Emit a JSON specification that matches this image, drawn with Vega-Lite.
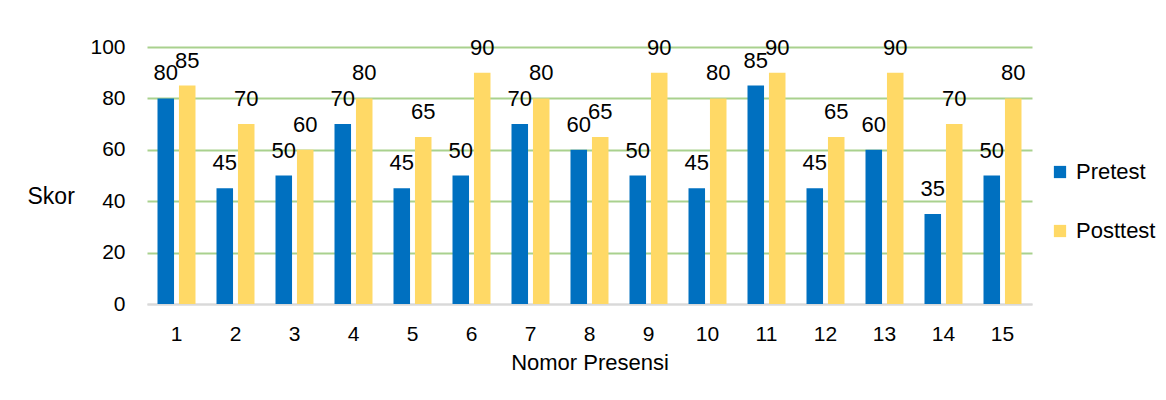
{
  "$schema": "https://vega.github.io/schema/vega-lite/v6.json",
  "autosize": "none",
  "width": 885,
  "height": 257,
  "padding": {"left": 147, "top": 47, "right": 134, "bottom": 96},
  "background": "white",
  "title": {"text": "5.   Tahap Evaluasi", "anchor": "start", "frame": "group", "dx": -127, "offset": 44, "baseline": "alphabetic", "fontSize": 21, "fontWeight": "normal", "font": "Liberation Sans", "color": "#000000"},
  "data": {"values": [
    {"nomor": 1, "tes": "Pretest", "skor": 80}, {"nomor": 1, "tes": "Posttest", "skor": 85},
    {"nomor": 2, "tes": "Pretest", "skor": 45}, {"nomor": 2, "tes": "Posttest", "skor": 70},
    {"nomor": 3, "tes": "Pretest", "skor": 50}, {"nomor": 3, "tes": "Posttest", "skor": 60},
    {"nomor": 4, "tes": "Pretest", "skor": 70}, {"nomor": 4, "tes": "Posttest", "skor": 80},
    {"nomor": 5, "tes": "Pretest", "skor": 45}, {"nomor": 5, "tes": "Posttest", "skor": 65},
    {"nomor": 6, "tes": "Pretest", "skor": 50}, {"nomor": 6, "tes": "Posttest", "skor": 90},
    {"nomor": 7, "tes": "Pretest", "skor": 70}, {"nomor": 7, "tes": "Posttest", "skor": 80},
    {"nomor": 8, "tes": "Pretest", "skor": 60}, {"nomor": 8, "tes": "Posttest", "skor": 65},
    {"nomor": 9, "tes": "Pretest", "skor": 50}, {"nomor": 9, "tes": "Posttest", "skor": 90},
    {"nomor": 10, "tes": "Pretest", "skor": 45}, {"nomor": 10, "tes": "Posttest", "skor": 80},
    {"nomor": 11, "tes": "Pretest", "skor": 85}, {"nomor": 11, "tes": "Posttest", "skor": 90},
    {"nomor": 12, "tes": "Pretest", "skor": 45}, {"nomor": 12, "tes": "Posttest", "skor": 65},
    {"nomor": 13, "tes": "Pretest", "skor": 60}, {"nomor": 13, "tes": "Posttest", "skor": 90},
    {"nomor": 14, "tes": "Pretest", "skor": 35}, {"nomor": 14, "tes": "Posttest", "skor": 70},
    {"nomor": 15, "tes": "Pretest", "skor": 50}, {"nomor": 15, "tes": "Posttest", "skor": 80}
  ]},
  "encoding": {
    "x": {"field": "nomor", "type": "ordinal", "scale": {"paddingInner": 0.356, "paddingOuter": 0.178},
      "axis": {"title": "Nomor Presensi", "labelAngle": 0, "ticks": false, "domainColor": "#D9D9D9", "domainWidth": 2, "labelPadding": 19, "titlePadding": 8, "grid": false}},
    "xOffset": {"field": "tes", "type": "nominal", "sort": ["Pretest", "Posttest"], "scale": {"paddingInner": 0.23, "paddingOuter": 0}},
    "y": {"field": "skor", "type": "quantitative", "scale": {"domain": [0, 100], "nice": false},
      "axis": {"title": "Skor", "values": [0, 20, 40, 60, 80, 100], "ticks": false, "domain": false, "labelPadding": 22,
        "gridColor": {"condition": {"test": "datum.value === 0", "value": "#D9D9D9"}, "value": "#A9D18E"}, "gridWidth": 2,
        "titleAngle": 0, "titleAlign": "left", "titleBaseline": "middle", "titleX": -120, "titleY": 149, "titleFontSize": 23}}
  },
  "layer": [
    {"mark": {"type": "bar"},
     "encoding": {"color": {"field": "tes", "type": "nominal", "sort": ["Pretest", "Posttest"],
       "scale": {"domain": ["Pretest", "Posttest"], "range": ["#0070C0", "#FFD966"]},
       "legend": {"title": null, "orient": "none", "legendX": 902, "legendY": 114, "symbolType": "square", "symbolSize": 150, "symbolStrokeWidth": 0, "labelFontSize": 22, "labelOffset": 5, "rowPadding": 37, "padding": 0}}}},
    {"mark": {"type": "text", "baseline": "bottom", "dy": -13, "fontSize": 22, "font": "Liberation Sans", "color": "#000000"},
     "encoding": {"text": {"field": "skor", "type": "quantitative"}}}
  ],
  "config": {
    "font": "Liberation Sans",
    "view": {"stroke": null},
    "axis": {"labelFont": "Liberation Sans", "titleFont": "Liberation Sans", "labelFontSize": 21, "titleFontSize": 22, "titleFontWeight": "normal", "labelColor": "#000000", "titleColor": "#000000"},
    "legend": {"labelFont": "Liberation Sans", "labelColor": "#000000"}
  }
}
